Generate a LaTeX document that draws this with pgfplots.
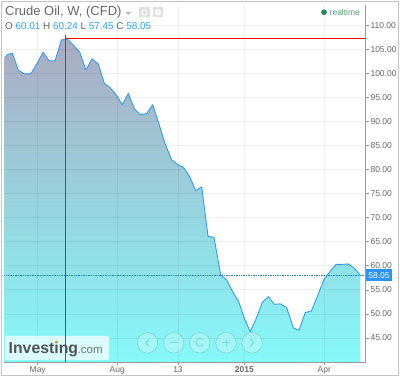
\documentclass[border=0pt]{standalone}
\usepackage{fontspec}
\setmainfont{Liberation Sans}
\usepackage{pgfplots}
\pgfplotsset{compat=1.18}
\definecolor{lineblue}{HTML}{2F9DF2}
\definecolor{valblue}{HTML}{2FA4F5}
\definecolor{txtgray}{HTML}{666666}
\definecolor{axgray}{HTML}{9A9A9A}
\definecolor{frameg}{HTML}{C4C4C4}
\definecolor{filltop}{HTML}{ABABC2}
\definecolor{fillbot}{HTML}{85F9F9}
\definecolor{rtgreen}{HTML}{2B8A5A}
\definecolor{crossred}{HTML}{CC2233}
\definecolor{btnline}{HTML}{84D6D6}
\pgfplotstableread{
x y
4.7 103.1
7.3 103.9
12.3 104.2
18.3 100.7
24.3 99.9
30.7 99.9
36.7 101.9
43 104.4
49 102.65
55 102.6
61.3 106.95
67.3 107.15
73.3 105.9
79.7 104.4
86 100.7
92 103.05
98.3 101.95
104.3 97.95
110.3 97
116.3 95.5
122.3 93.5
128.3 95.85
134.3 92.65
140.3 91.4
146.7 91.65
152.7 93.5
158.7 89.7
164.7 85.6
171.7 82
177.7 81.05
183.3 80.5
189.7 78.55
195.7 75.6
201.7 76.45
208 66.15
214 65.9
220.7 58.1
226.7 57.05
232.7 54.6
238.7 52.55
244.3 49.1
250.3 46.3
256.3 49.1
262.3 52.4
268.3 53.6
274.3 52
280.3 52.1
286.7 51.3
293.3 47.1
299 46.6
305.3 50.3
311.3 50.6
317.3 53.6
324 57.2
330 58.8
336 60.3
342 60.3
348.3 60.4
354.3 59.5
360.3 58.05
}\prices
\begin{document}
\begin{tikzpicture}[x=1pt,y=1pt]
\path[use as bounding box] (0,0) rectangle (400,377);
\begin{axis}[
  at={(4.5pt,14.7pt)}, anchor=south west,
  scale only axis, width=361pt, height=357.3pt,
  xmin=4.5, xmax=365.5, ymin=39.95, ymax=114.22,
  axis x line=bottom, axis y line=right,
  axis line style={-, draw=axgray, line width=1pt},
  axis on top,
  xtick={37.7,117.3,178,244.3,324.3},
  xticklabels={May,Aug,13,\textbf{2015},Apr},
  ytick={45,50,...,110},
  grid=major,
  major grid style={black, opacity=0.06, line width=0.8pt},
  tick style={draw=axgray, line width=0.7pt},
  major tick length=3pt,
  tick align=outside,
  ticklabel style={font=\fontsize{8.5}{9}\selectfont, text=txtgray},
  xticklabel style={yshift=2pt},
  yticklabel style={xshift=-1.5pt},
  /pgf/number format/assume math mode=true,
  yticklabel style={/pgf/number format/fixed, /pgf/number format/fixed zerofill, /pgf/number format/precision=2},
]
\addplot[draw=none, top color=filltop, bottom color=fillbot, forget plot] table[x=x,y=y]{\prices} |- (axis cs:4.7,39.95) -- cycle;
\addplot[color=lineblue, line width=0.9pt, line join=round] table[x=x,y=y]{\prices};
\addplot[color=red, line width=0.8pt] coordinates {(65.3,107.25) (365.5,107.25)};
\addplot[color=crossred, line width=0.8pt] coordinates {(65.3,107.9) (65.3,39.95)};
\addplot[color=lineblue!80!black, line width=0.7pt, densely dotted] coordinates {(4.5,58.05) (365.5,58.05)};
\end{axis}
\begin{scope}[shift={(0,377)},y=-1pt]
\draw[frameg, line width=1pt] (1.5,1.5) rectangle (398.5,375.5);
\node[anchor=west,inner sep=0,text=txtgray,font=\fontsize{13}{15}\selectfont] at (5,12.5) {Crude Oil, W, (CFD)};
\fill[black!28] (125.5,12) -- (131,12) -- (128.2,15) -- cycle;
\fill[black!12] (139,7) rectangle (150,17.5);
\fill[black!12] (153,7) rectangle (163,17.5);
\draw[white,line width=0.9pt] (144.5,12.3) circle (2.6);
\fill[white] (158,12.3) circle (3.2);
\fill[black!12] (158,12.3) circle (1.2);
\node[anchor=west,inner sep=0,font=\fontsize{9.9}{11}\selectfont] at (5,25.7) {\textcolor{txtgray}{O} \textcolor{valblue}{60.01} \textcolor{txtgray}{H} \textcolor{valblue}{60.24} \textcolor{txtgray}{L} \textcolor{valblue}{57.45} \textcolor{txtgray}{C} \textcolor{valblue}{58.05}};
\fill[rtgreen] (324,12.2) circle (2.9);
\node[anchor=west,inner sep=0,text=rtgreen!80!white,font=\fontsize{8.5}{9}\selectfont] at (329.5,12.5) {realtime};
\fill[white,opacity=0.7,rounded corners=2pt] (5,336) rectangle (109,360);
\node[anchor=base west,inner sep=0,text=black!68,font=\fontsize{15.8}{18}\selectfont\bfseries] at (8.5,354) {Investing};
\node[anchor=base west,inner sep=0,text=black!55,font=\fontsize{11.5}{12}\selectfont] at (77.5,354) {.com};
\fill[orange!80!yellow] (56.7,341.7) circle (1.1);
\draw[crossred,line width=0.8pt] (65.3,335) -- (65.3,362);
\foreach \cx in {147.5,173.7,199.8,226,252}{
  \draw[fill=white,fill opacity=0.25,draw=btnline,line width=0.7pt] (\cx,342.8) circle (10.3);
}
\begin{scope}[draw=btnline,line width=1pt]
\draw (149,339.3) -- (145.8,342.8) -- (149,346.3);
\draw (169.7,342.8) -- (177.7,342.8);
\draw (203.3,340.3) arc (-30:-330:4) ;
\draw (222,342.8) -- (230,342.8) (226,338.8) -- (226,346.8);
\draw (250.5,339.3) -- (253.7,342.8) -- (250.5,346.3);
\end{scope}
\fill[valblue!90!blue] (366,269.5) rectangle (392,281.5);
\node[inner sep=0,text=white,font=\fontsize{8.5}{9}\selectfont] at (379,275.7) {58.05};
\end{scope}
\end{tikzpicture}
\end{document}
